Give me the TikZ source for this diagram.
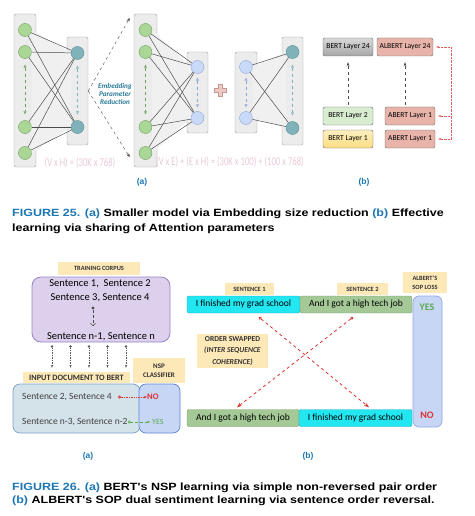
\documentclass[tikz,border=0pt]{standalone}
\usepackage{fontspec}
\setmainfont{Carlito}
\newfontfamily\capfont{Liberation Sans}
\usetikzlibrary{arrows.meta,positioning}

\definecolor{figblue}{RGB}{28,118,178}
\definecolor{colfill}{RGB}{236,236,236}
\definecolor{coldraw}{RGB}{160,160,160}
\definecolor{greenc}{RGB}{170,214,150}
\definecolor{greencd}{RGB}{110,160,95}
\definecolor{tealc}{RGB}{128,178,186}
\definecolor{tealcd}{RGB}{88,140,150}
\definecolor{bluec}{RGB}{200,218,248}
\definecolor{bluecd}{RGB}{138,166,214}
\definecolor{formpink}{RGB}{232,200,216}
\definecolor{embtext}{RGB}{40,120,150}
\definecolor{salmon}{RGB}{232,180,170}
\definecolor{salmond}{RGB}{170,110,100}
\definecolor{lgreen}{RGB}{216,236,208}
\definecolor{lyellow}{RGB}{250,222,130}
\definecolor{tagyellow}{RGB}{253,232,184}
\definecolor{lavender}{RGB}{220,208,236}
\definecolor{lavenderd}{RGB}{150,132,200}
\definecolor{inputfill}{RGB}{212,226,234}
\definecolor{inputdraw}{RGB}{122,160,200}
\definecolor{nspfill}{RGB}{200,214,246}
\definecolor{nspdraw}{RGB}{90,132,216}
\definecolor{cyanbox}{RGB}{34,230,240}
\definecolor{cyandraw}{RGB}{40,170,190}
\definecolor{greenbox}{RGB}{164,200,150}
\definecolor{greendraw}{RGB}{120,160,105}
\definecolor{redline}{RGB}{220,50,50}
\definecolor{yesgreen}{RGB}{90,170,80}

\begin{document}
\begin{tikzpicture}[x=1pt,y=-1pt]
    \tikzset{col/.style={rectangle, rounded corners=2pt, draw=coldraw, fill=colfill, minimum width=22pt, inner sep=0}}
    \tikzset{gcirc/.style={circle, draw=greencd, fill=greenc, minimum size=13pt, inner sep=0}}
    \tikzset{tcirc/.style={circle, draw=tealcd, fill=tealc, minimum size=13pt, inner sep=0}}
    \tikzset{bcirc/.style={circle, draw=bluecd, fill=bluec, minimum size=13pt, inner sep=0}}
    \tikzset{wire/.style={draw=black!70, line width=0.5pt}}
    \tikzset{span/.style={dashed, line width=0.6pt, {Triangle[open,length=3pt,width=3pt]}-{Triangle[open,length=3pt,width=3pt]}}}
    \tikzset{formula/.style={text=formpink, font=\fontsize{12}{12}\selectfont, inner sep=0}}
    \tikzset{layer/.style={rectangle, rounded corners=2pt, draw=black!60, minimum height=18pt, inner sep=0, font=\fontsize{7.6}{8}\selectfont}}
    \tikzset{tag/.style={rectangle, fill=tagyellow, inner sep=0, align=center, text=black!80, font=\bfseries\fontsize{6.4}{7}\selectfont}}
    \tikzset{sentbox/.style={rectangle, rounded corners=2pt, minimum height=17pt, inner sep=0, font=\fontsize{9.5}{10}\selectfont}}
    \tikzset{panel/.style={text=figblue, font=\capfont\bfseries\fontsize{8.5}{9}\selectfont}}
    \tikzset{capt/.style={anchor=base west, inner sep=0, font=\capfont\bfseries\fontsize{10.5}{12}\selectfont}}
    \useasboundingbox (0,0) rectangle (474,516);

    % figure 25 (a): embedding factorisation
    \node[col, minimum height=153pt] (col1) at (25,90.5) {};
    \node[col, minimum height=108pt, minimum width=21pt] (col2) at (77.5,91) {};
    \node[col, minimum height=153pt, minimum width=23pt] (col3) at (145.5,90.5) {};
    \node[col, minimum height=81pt, minimum width=21pt] (col4) at (197.5,92.5) {};
    \node[col, minimum height=81pt] (col5) at (246,92.5) {};
    \node[col, minimum height=108pt, minimum width=21pt] (col6) at (292.5,91) {};

    \foreach \y [count=\i] in {30,52,127,153} {
        \node[gcirc] (a\i) at (25,\y) {};
        \node[gcirc] (c\i) at (145.5,\y) {};
    }
    \node[tcirc] (b1) at (77.5,53) {};
    \node[tcirc] (b2) at (77.5,127) {};
    \node[bcirc] (d1) at (197.5,67) {};
    \node[bcirc] (d2) at (197.5,118) {};
    \node[bcirc] (e1) at (246,67) {};
    \node[bcirc] (e2) at (246,118) {};
    \node[tcirc] (f1) at (292.5,52) {};
    \node[tcirc] (f2) at (292.5,128) {};

    \fill[black!6] (a1.east) -- (b1.west) -- (b2.west) -- (a4.east) -- cycle;
    \fill[black!6] (c1.east) -- (d1.west) -- (d2.west) -- (c4.east) -- cycle;
    \fill[black!6] (e1.east) -- (f1.west) -- (f2.west) -- (e2.east) -- cycle;
    \foreach \i in {1,...,4} {
        \foreach \j in {1,2} {
            \draw[wire] (a\i) -- (b\j);
            \draw[wire] (c\i) -- (d\j);
        }
    }
    \foreach \i in {1,2} {
        \foreach \j in {1,2} \draw[wire] (e\i) -- (f\j);
    }

    \draw[span, draw=greencd] ([yshift=-6pt]a2.south) -- ([yshift=6pt]a3.north);
    \draw[span, draw=tealc] ([yshift=-6pt]b1.south) -- ([yshift=6pt]b2.north);
    \draw[span, draw=greencd] ([yshift=-6pt]c2.south) -- ([yshift=6pt]c3.north);
    \draw[span, draw=bluecd] ([yshift=-4pt]d1.south) -- ([yshift=4pt]d2.north);
    \draw[span, draw=bluecd] ([yshift=-4pt]e1.south) -- ([yshift=4pt]e2.north);
    \draw[span, draw=tealc] ([yshift=-6pt]f1.south) -- ([yshift=6pt]f2.north);

    \draw[dashed, black!70, -{Stealth[length=4pt]}] (col2.east) -- ([xshift=-4pt,yshift=-4pt]col3.north west);
    \draw[dashed, black!70, -{Stealth[length=4pt]}] (col2.east) -- ([xshift=-4pt,yshift=10pt]col3.south west);
    \node[text=embtext, align=center, font=\itshape\bfseries\fontsize{7.2}{8.2}\selectfont, inner sep=0] (emb) at (115,94) {Embedding\\Parameter\\Reduction};

    \fill[salmon!70, draw=salmond!70, line width=0.4pt] (218,84) -- (222,84) -- (222,88) -- (226,88) -- (226,92) -- (222,92) -- (222,96) -- (218,96) -- (218,92) -- (214,92) -- (214,88) -- (218,88) -- cycle;

    \node[formula] (f1txt) at (80,163) {\scalebox{0.72}[1]{(V x H) = (30K x 768)}};
    \node[formula] (f2txt) at (230,162) {\scalebox{0.72}[1]{(V x E) + (E x H) = (30K x 100) + (100 x 768)}};
    \node[panel] (pa1) at (142,182) {(a)};

    % figure 25 (b): shared layers
    \node[layer, minimum width=50pt, top color=black!15, bottom color=black!35] (bert24) at (348,47) {BERT Layer 24};
    \node[layer, minimum width=56pt, fill=salmon] (albert24) at (405,47) {ALBERT Layer 24};
    \node[layer, minimum width=50pt, fill=lgreen] (bert2) at (348,116) {BERT Layer 2};
    \node[layer, minimum width=50pt, top color=lyellow!50, bottom color=lyellow] (bert1) at (348,139) {BERT Layer 1};
    \node[layer, minimum width=50pt, fill=salmon] (abert2) at (410,116) {ABERT Layer 1};
    \node[layer, minimum width=50pt, fill=salmon] (abert1) at (410,139) {ABERT Layer 1};

    \draw[dashed, black!70, line width=0.6pt, -{Stealth[length=4pt]}, shorten >=6pt, shorten <=2pt] (bert2) -- (bert24);
    \draw[dashed, black!70, line width=0.6pt, -{Stealth[length=4pt]}, shorten >=6pt, shorten <=2pt] (abert2.north -| albert24.south) -- (albert24.south);
    \coordinate (rtop) at (451,47);
    \coordinate (rbot) at (451,139);
    \draw[redline!80, densely dotted] (rtop) -- (rbot);
    \draw[redline!80, densely dotted, -{Stealth[length=3pt]}, shorten >=3pt] (rtop) -- (albert24.east);
    \draw[redline!80, densely dotted, -{Stealth[length=3pt]}, shorten >=3pt] (rtop |- abert2.east) -- (abert2.east);
    \draw[redline!80, densely dotted, -{Stealth[length=3pt]}, shorten >=3pt] (rbot) -- (abert1.east);
    \node[panel] (pb1) at (364,182) {(b)};

    \node[capt] (cap25a) at (12,216) {\scalebox{1.19}[1]{\textcolor{figblue}{FIGURE 25. (a)} Smaller model via Embedding size reduction \textcolor{figblue}{(b)} Effective}};
    \node[capt] (cap25b) at (12,231) {\scalebox{1.19}[1]{learning via sharing of Attention parameters}};

    % figure 26 (a): NSP
    \node[tag, minimum width=82pt, minimum height=13pt] (corpustag) at (99,268.5) {TRAINING CORPUS};
    \node[rectangle, rounded corners=9pt, draw=lavenderd, fill=lavender, line width=0.8pt, minimum width=138pt, minimum height=65pt] (corpus) at (101,309.5) {};
    \node[font=\fontsize{10.5}{11}\selectfont, inner sep=0] (s12) at (100,284) {Sentence 1,\ \ Sentence 2};
    \node[font=\fontsize{10.5}{11}\selectfont, inner sep=0] (s34) at (100,298) {Sentence 3, Sentence 4};
    \node[font=\fontsize{10.5}{11}\selectfont, inner sep=0] (snn) at (101,337) {Sentence n-1, Sentence n};
    \fill[black!70] (93,308) circle (1.6pt);
    \coordinate (dotend) at (93,326);
    \draw[black!70, densely dashed, -{Straight Barb[length=2.5pt]}] (93,310) -- (dotend);

    \node[tag, minimum width=107pt, minimum height=11pt, font=\bfseries\fontsize{8.2}{8.5}\selectfont] (inputtag) at (76.5,377.5) {INPUT DOCUMENT TO BERT};
    \node[tag, minimum width=52pt, minimum height=25pt, font=\bfseries\fontsize{7}{9}\selectfont] (nsptag) at (159,370.5) {NSP\\CLASSIFIER};
    \foreach \i in {0,...,4} {
        \fill[black!65] ([xshift=-49pt+18.5pt*\i,yshift=-4pt]corpus.south) circle (1.4pt);
        \draw[black!65, densely dotted, line width=0.7pt, -{Stealth[length=3pt]}] ([xshift=-49pt+18.5pt*\i,yshift=-4pt]corpus.south) -- ([xshift=-49pt+18.5pt*\i,yshift=4pt]corpus.south |- inputtag.north);
    }

    \node[rectangle, rounded corners=7pt, draw=inputdraw, fill=inputfill, line width=0.7pt, minimum width=127pt, minimum height=49pt] (inputbox) at (76.5,408.5) {};
    \node[rectangle, rounded corners=7pt, draw=nspdraw, fill=nspfill, line width=0.7pt, minimum width=41pt, minimum height=49pt] (nspbox) at (159.5,408.5) {};
    \node[font=\fontsize{9.5}{10}\selectfont, anchor=west, inner sep=0, text=black!75] (s24) at (22,397) {Sentence 2, Sentence 4};
    \node[font=\fontsize{9.5}{10}\selectfont, anchor=west, inner sep=0, text=black!75] (sn32) at (22,422) {Sentence n-3, Sentence n-2};
    \node[anchor=west, inner sep=0, text=redline, font=\bfseries\fontsize{8.5}{9}\selectfont] (nsno) at (147,397) {NO};
    \node[anchor=west, inner sep=0, text=yesgreen, font=\fontsize{8}{9}\selectfont] (nsyes) at (152,422) {YES};
    \draw[redline, densely dotted, line width=0.7pt, {Circle[open,length=3pt]}-{Stealth[length=3pt]}, shorten <=6pt] (s24.east) -- (nsno.west);
    \draw[yesgreen, densely dashed, line width=0.5pt, {Circle[open,length=3pt]}-{Stealth[length=3pt]}, shorten >=2pt] (sn32.east) -- (nsyes.west);
    \node[panel] (pa2) at (88,456) {(a)};

    % figure 26 (b): SOP
    \node[tag, minimum width=49pt, minimum height=12pt] (sent1tag) at (249.5,289) {SENTENCE 1};
    \node[tag, minimum width=51pt, minimum height=12pt] (sent2tag) at (362.5,289) {SENTENCE 2};
    \node[tag, minimum width=44pt, minimum height=21pt, font=\bfseries\fontsize{6.4}{9}\selectfont] (soptag) at (425,282.5) {ALBERT'S\\SOP LOSS};
    \node[rectangle, rounded corners=6pt, draw=nspdraw!70, fill=nspfill, line width=0.7pt, minimum width=29pt, minimum height=131pt] (sopbox) at (427.5,361.5) {};
    \node[inner sep=0, text=yesgreen, font=\bfseries\fontsize{10}{10}\selectfont] (sopyes) at (427,307) {YES};
    \node[inner sep=0, text=redline, font=\bfseries\fontsize{10}{10}\selectfont] (sopno) at (427,415) {NO};

    \node[sentbox, fill=cyanbox, draw=cyandraw, minimum width=113pt] (s1top) at (243.5,304.5) {I finished my grad school};
    \node[sentbox, fill=greenbox, draw=greendraw, minimum width=112pt] (s2top) at (356,304.5) {And I got a high tech job};
    \node[sentbox, fill=greenbox, draw=greendraw, minimum width=112pt] (s2bot) at (243,418) {And I got a high tech job};
    \node[sentbox, fill=cyanbox, draw=cyandraw, minimum width=113pt] (s1bot) at (355.5,418) {I finished my grad school};

    \node[tag, minimum width=71pt, minimum height=34pt, font=\bfseries\fontsize{7.6}{11.5}\selectfont] (ordertag) at (232.5,351) {ORDER SWAPPED\\\textit{(INTER SEQUENCE}\\\textit{COHERENCE)}};

    \draw[redline, dashed, line width=0.8pt, {Circle[open,length=3pt]}-{Stealth[length=5pt]}] ([xshift=15.5pt,yshift=-4pt]s1top.south) -- ([xshift=13.5pt,yshift=2pt]s1bot.north);
    \draw[redline, dashed, line width=0.8pt, {Circle[open,length=3pt]}-{Stealth[length=5pt]}] ([xshift=-3pt,yshift=-4pt]s2top.south) -- ([xshift=-6pt,yshift=2pt]s2bot.north);
    \node[panel] (pb2) at (308,456) {(b)};

    \node[capt] (cap26a) at (12,490) {\scalebox{1.19}[1]{\textcolor{figblue}{FIGURE 26. (a)} BERT's NSP learning via simple non-reversed pair order}};
    \node[capt] (cap26b) at (12,503) {\scalebox{1.19}[1]{\textcolor{figblue}{(b)} ALBERT's SOP dual sentiment learning via sentence order reversal.}};
\end{tikzpicture}
\end{document}
